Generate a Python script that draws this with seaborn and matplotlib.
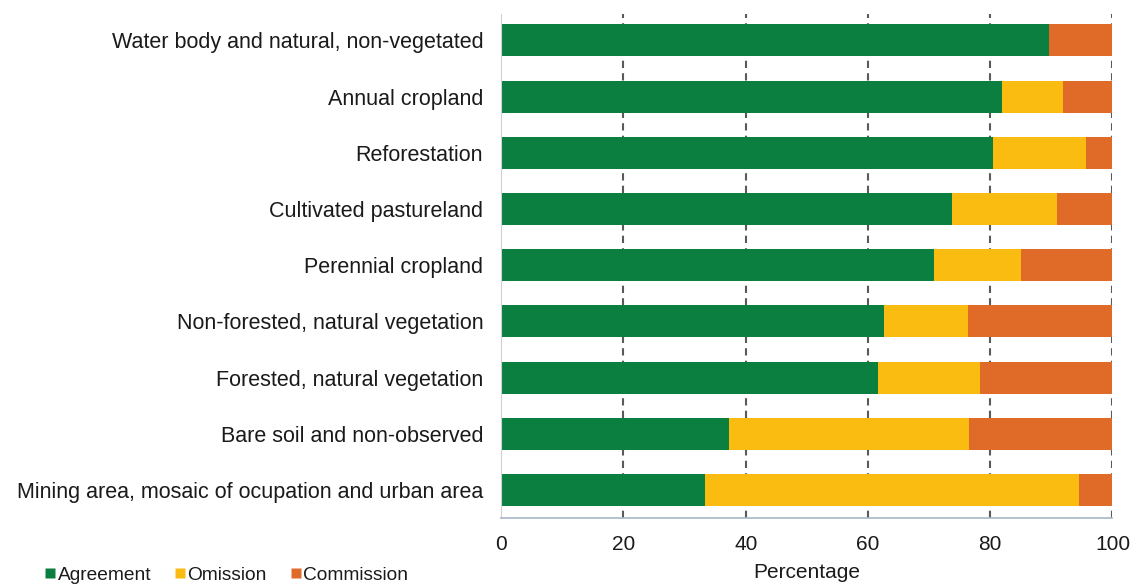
import pandas as pd
import matplotlib.pyplot as plt
import seaborn as sns
from matplotlib.lines import Line2D

# Land-cover classes (top to bottom)
classes = [
    "Water body and natural, non-vegetated",
    "Annual cropland",
    "Reforestation",
    "Cultivated pastureland",
    "Perennial cropland",
    "Non-forested, natural vegetation",
    "Forested, natural vegetation",
    "Bare soil and non-observed",
    "Mining area, mosaic of ocupation and urban area",
]
agreement = [89.6, 81.9, 80.4, 73.7, 70.8, 62.7, 61.6, 37.3, 33.3]
omission = [0.0, 10.0, 15.2, 17.2, 14.2, 13.6, 16.7, 39.3, 61.2]
commission = [10.4, 8.1, 4.4, 9.1, 15.0, 23.7, 21.7, 23.4, 5.5]

df = pd.DataFrame({"cls": classes, "Agreement": agreement,
                   "Omission": omission, "Commission": commission})
df["cum_om"] = df["Agreement"] + df["Omission"]
df["cum_all"] = df["cum_om"] + df["Commission"]

colors = {"Agreement": "#0b7f40", "Omission": "#fbbc12", "Commission": "#e06a28"}

plt.rcParams["font.family"] = ["Liberation Sans", "DejaVu Sans"]
fig, ax = plt.subplots(figsize=(11.34, 5.87), dpi=100)
fig.subplots_adjust(left=0.442, right=0.981, top=1 - 14 / 587, bottom=1 - 518 / 587)

# stacked bars: draw totals first, then overlay partial sums
sns.barplot(data=df, x="cum_all", y="cls", color=colors["Commission"], width=0.57,
            saturation=1, ax=ax)
sns.barplot(data=df, x="cum_om", y="cls", color=colors["Omission"], width=0.57,
            saturation=1, ax=ax)
sns.barplot(data=df, x="Agreement", y="cls", color=colors["Agreement"], width=0.57,
            saturation=1, ax=ax)

ax.set_xlim(0, 100)
ax.set_ylim(8.5, -0.47)
ax.set_xticks([0, 20, 40, 60, 80, 100])
ax.set_axisbelow(True)
ax.grid(axis="x", color="#5a5a5a", linestyle=(0, (3.5, 2.5)), linewidth=1.5)
ax.grid(axis="y", visible=False)
ax.xaxis.get_gridlines()[0].set_visible(False)

for s in ["top", "right"]:
    ax.spines[s].set_visible(False)
ax.spines["left"].set_color("#d0d0d0")
ax.spines["bottom"].set_color("#a9b6c8")
ax.spines["bottom"].set_linewidth(1.2)
ax.tick_params(axis="x", length=0, labelsize=15, colors="#1a1a1a", pad=12)
ax.tick_params(axis="y", length=0, labelsize=15.5, colors="#1a1a1a", pad=13)

ax.set_xlabel("Percentage", fontsize=15, color="#1a1a1a", labelpad=7)
ax.set_ylabel("")

order = ["Agreement", "Omission", "Commission"]
h = [Line2D([], [], marker="s", linestyle="none", markersize=7.5,
            markerfacecolor=colors[o], markeredgecolor="none") for o in order]
fig.legend(h, order, loc="center left", bbox_to_anchor=(0.039, 1 - 575 / 587), ncol=3,
           frameon=False, fontsize=13.8, handlelength=0.6, handletextpad=0.1,
           columnspacing=1.2, borderpad=0, borderaxespad=0, labelcolor="#1a1a1a")

fig.savefig("out.png", dpi=100, facecolor="white")
